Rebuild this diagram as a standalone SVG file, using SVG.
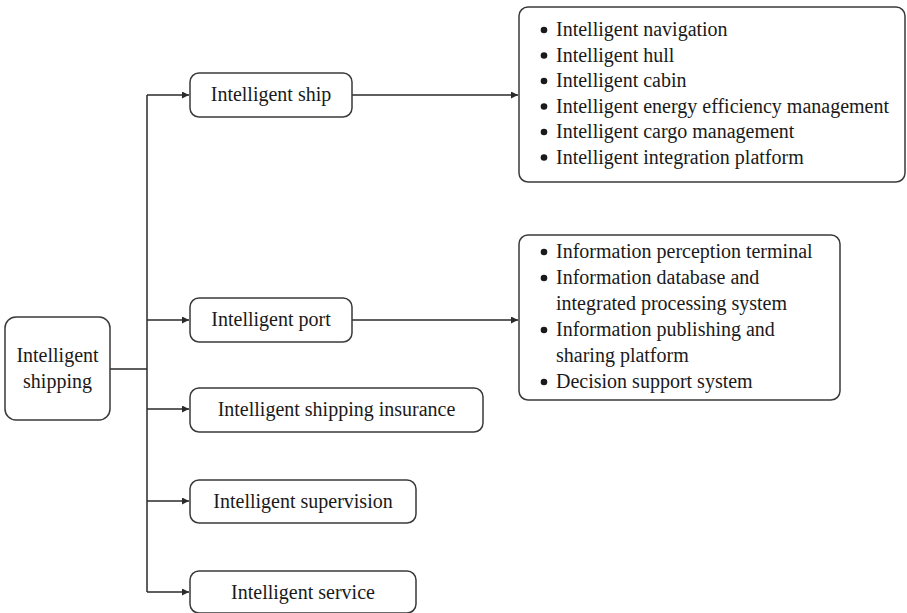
<svg xmlns="http://www.w3.org/2000/svg" width="907" height="613" viewBox="0 0 907 613">
<defs>
<marker id="ah" viewBox="0 0 10 10" refX="10" refY="5" markerWidth="9" markerHeight="7" markerUnits="userSpaceOnUse" orient="auto">
<path d="M0,0 L10,5 L0,10 Z" fill="#2a2a2a"/>
</marker>
</defs>
<rect width="907" height="613" fill="#fff"/>
<g id="connectors" fill="none" stroke="#2a2a2a" stroke-width="1.5">
<path d="M110,369 H147"/>
<path d="M147,95 V592"/>
<path d="M147,95 H189" marker-end="url(#ah)"/>
<path d="M147,320 H189" marker-end="url(#ah)"/>
<path d="M147,409 H189" marker-end="url(#ah)"/>
<path d="M147,501 H189" marker-end="url(#ah)"/>
<path d="M147,592 H189" marker-end="url(#ah)"/>
<path d="M352,95 H518" marker-end="url(#ah)"/>
<path d="M352,320 H518" marker-end="url(#ah)"/>
</g>
<g font-family="'Times New Roman', 'Liberation Serif', 'DejaVu Serif', serif" font-size="20" fill="#1a1a1a">
<g id="root">
<rect x="5" y="317" width="105" height="103" rx="11" fill="#fff" stroke="#3a3a3a" stroke-width="1.5"/>
<text text-anchor="middle" x="57.5" y="362">Intelligent</text>
<text text-anchor="middle" x="57.5" y="388">shipping</text>
</g>
<g id="ship">
<rect x="190" y="73" width="162" height="44" rx="9" fill="#fff" stroke="#3a3a3a" stroke-width="1.5"/>
<text text-anchor="middle" x="271" y="101">Intelligent ship</text>
</g>
<g id="port">
<rect x="190" y="298" width="162" height="44" rx="9" fill="#fff" stroke="#3a3a3a" stroke-width="1.5"/>
<text text-anchor="middle" x="271" y="326">Intelligent port</text>
</g>
<g id="insurance">
<rect x="190" y="388" width="293" height="44" rx="9" fill="#fff" stroke="#3a3a3a" stroke-width="1.5"/>
<text text-anchor="middle" x="336.5" y="416">Intelligent shipping insurance</text>
</g>
<g id="supervision">
<rect x="190" y="480" width="226" height="43" rx="9" fill="#fff" stroke="#3a3a3a" stroke-width="1.5"/>
<text text-anchor="middle" x="303" y="508">Intelligent supervision</text>
</g>
<g id="service">
<rect x="190" y="571" width="226" height="42" rx="9" fill="#fff" stroke="#3a3a3a" stroke-width="1.5"/>
<text text-anchor="middle" x="303" y="599">Intelligent service</text>
</g>
<g id="ship-details">
<rect x="519" y="7" width="386" height="175" rx="9" fill="#fff" stroke="#3a3a3a" stroke-width="1.5"/>
<circle cx="544" cy="30" r="3.3"/><circle cx="544" cy="55.5" r="3.3"/><circle cx="544" cy="81" r="3.3"/>
<circle cx="544" cy="106.5" r="3.3"/><circle cx="544" cy="132" r="3.3"/><circle cx="544" cy="157.5" r="3.3"/>
<text x="556" y="36">Intelligent navigation</text>
<text x="556" y="61.5">Intelligent hull</text>
<text x="556" y="87">Intelligent cabin</text>
<text x="556" y="112.5">Intelligent energy efficiency management</text>
<text x="556" y="138">Intelligent cargo management</text>
<text x="556" y="163.5">Intelligent integration platform</text>
</g>
<g id="port-details">
<rect x="519" y="235" width="321" height="165" rx="9" fill="#fff" stroke="#3a3a3a" stroke-width="1.5"/>
<circle cx="544" cy="252" r="3.3"/><circle cx="544" cy="278" r="3.3"/>
<circle cx="544" cy="330" r="3.3"/><circle cx="544" cy="382" r="3.3"/>
<text x="556" y="258">Information perception terminal</text>
<text x="556" y="284">Information database and</text>
<text x="556" y="310">integrated processing system</text>
<text x="556" y="336">Information publishing and</text>
<text x="556" y="362">sharing platform</text>
<text x="556" y="388">Decision support system</text>
</g>
</g>
</svg>
